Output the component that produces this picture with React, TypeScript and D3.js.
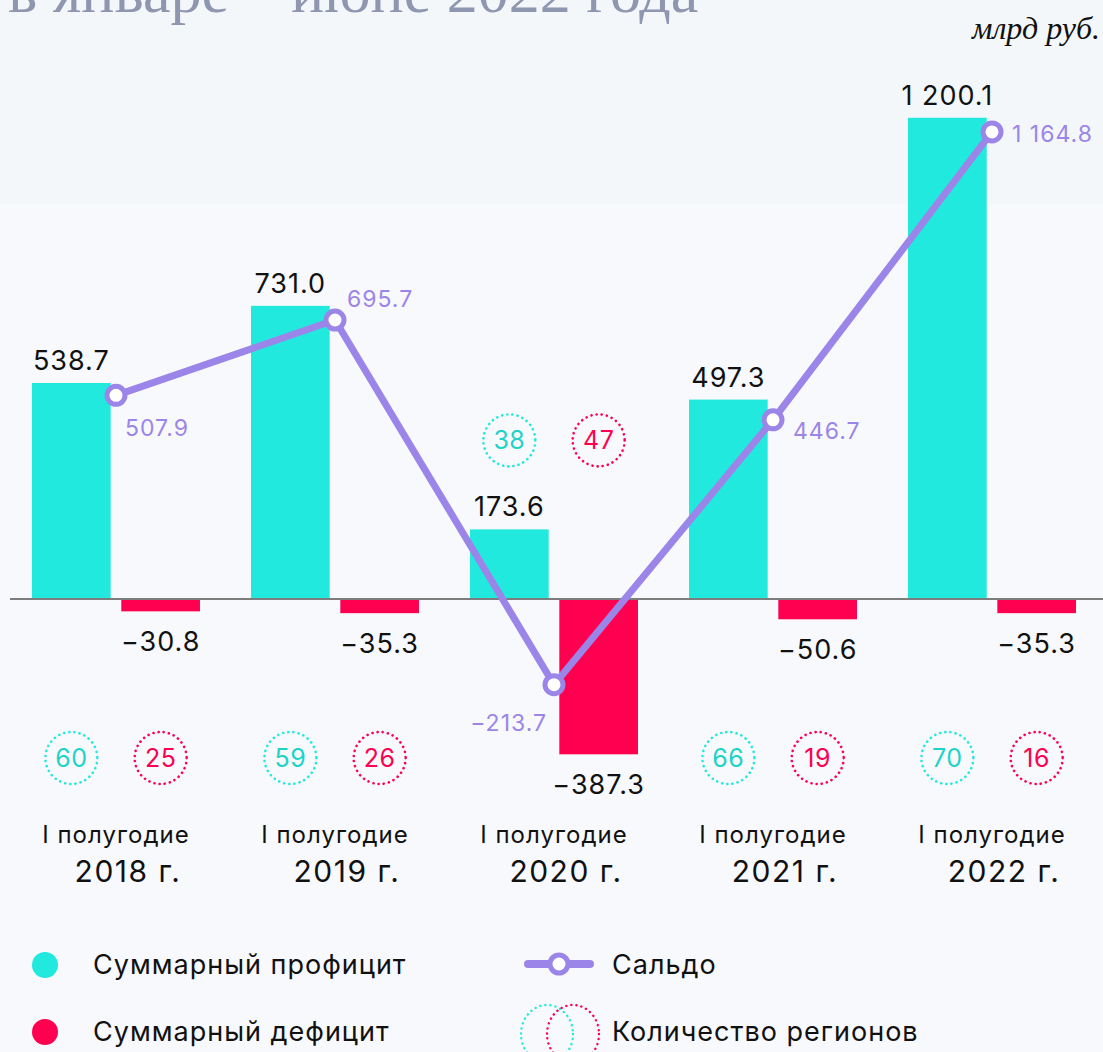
import React from "react";
import * as d3 from "d3";

const periods = ["2018", "2019", "2020", "2021", "2022"];
const profit = [538.7, 731.0, 173.6, 497.3, 1200.1];
const deficit = [-30.8, -35.3, -387.3, -50.6, -35.3];
const saldo = [507.9, 695.7, -213.7, 446.7, 1164.8];
const surplusRegions = [60, 59, 38, 66, 70];
const deficitRegions = [25, 26, 47, 19, 16];

// where the saldo label sits around its point: [dx, dy, anchor]
const saldoLabelPos: [number, number, string][] = [
  [9, 41, "start"],
  [12, -13, "start"],
  [-7, 46, "end"],
  [20, 19, "start"],
  [20, 10, "start"],
];

const W = 1103;
const H = 1052;
const CYAN = "#22e9de";
const RED = "#ff0050";
const PURPLE = "#9c85e8";
const FONT = "Inter, 'Noto Sans', sans-serif";

const fmt = (v: number) => {
  const s = Math.abs(v).toFixed(1);
  const [i, d] = s.split(".");
  const grouped = i.replace(/\B(?=(\d{3})+(?!\d))/g, " ");
  return (v < 0 ? "\u2212" : "") + grouped + "." + d;
};

const DottedCircle = ({cx, cy, color, value}: {cx: number; cy: number; color: string; value: number}) => (
  <g>
    <circle cx={cx} cy={cy} r={26} fill="none" stroke={color} strokeWidth={2.6}
            strokeDasharray="0.1 5.1" strokeLinecap="round"/>
    <text x={cx} y={cy + 9} textAnchor="middle" fontSize={25} letterSpacing={0.5}
          fill={color === CYAN ? "#1dd3c8" : RED}>
      {value}
    </text>
  </g>
);

const App = () => {
  const x = d3.scaleBand().domain(periods).range([32, 1076]).paddingInner(0.233).paddingOuter(0);
  const sub = d3.scaleBand().domain(["p", "d"]).range([0, x.bandwidth()]).paddingInner(0.119);
  const y = d3.scaleLinear().domain([0, 1000]).range([599, 198]);

  const mid = (p: string) => (x(p) as number) + x.bandwidth() / 2;
  const line = d3.line<number>().x((_, i) => mid(periods[i])).y(d => y(d));

  return (
    <svg width={W} height={H} style={{position: "absolute", left: 0, top: 0}} fontFamily={FONT}>
      <rect x={0} y={0} width={W} height={H} fill="#f8f9fd"/>
      <rect x={0} y={0} width={W} height={204} fill="#f3f7fa"/>

      <text x={8} y={12} fontFamily="'Liberation Serif', serif" fontSize={62} fill="#8f96b0">
        в январе – июне 2022 года
      </text>
      <text x={1100} y={39} textAnchor="end" fontFamily="'Liberation Serif', serif" fontStyle="italic"
            fontSize={32} fill="#111">млрд руб.</text>

      {periods.map((p, i) => {
        const x0 = x(p) as number;
        return (
          <g key={p}>
            <rect x={x0 + (sub("p") as number)} y={y(profit[i])} width={sub.bandwidth()}
                  height={y(0) - y(profit[i])} fill={CYAN}/>
            <rect x={x0 + (sub("d") as number)} y={y(0)} width={sub.bandwidth()}
                  height={y(deficit[i]) - y(0)} fill={RED}/>
          </g>
        );
      })}

      <line x1={10} x2={W} y1={y(0)} y2={y(0)} stroke="#7d7d7d" strokeWidth={2}/>

      {periods.map((p, i) => {
        const x0 = x(p) as number;
        const pc = x0 + (sub("p") as number) + sub.bandwidth() / 2;
        const dc = x0 + (sub("d") as number) + sub.bandwidth() / 2;
        const deepDeficit = y(deficit[i]) > 720;
        const cy = deepDeficit ? y(profit[i]) - 89 : 758;
        return (
          <g key={"l" + p}>
            <text x={pc} y={y(profit[i]) - 13} textAnchor="middle" fontSize={27} letterSpacing={1} fill="#111">
              {fmt(profit[i])}
            </text>
            <text x={dc} y={y(deficit[i]) + 40} textAnchor="middle" fontSize={27} letterSpacing={1} fill="#111">
              {fmt(deficit[i])}
            </text>
            <DottedCircle cx={pc} cy={cy} color={CYAN} value={surplusRegions[i]}/>
            <DottedCircle cx={dc} cy={cy} color={RED} value={deficitRegions[i]}/>
            <text x={mid(p)} y={843} textAnchor="middle" fontSize={24} letterSpacing={1} fill="#111">I полугодие</text>
            <text x={mid(p) + 12} y={882} textAnchor="middle" fontSize={30} letterSpacing={1.5} fill="#111">{p} г.</text>
          </g>
        );
      })}

      <path d={line(saldo) || ""} fill="none" stroke={PURPLE} strokeWidth={7} strokeLinejoin="round"/>
      {saldo.map((v, i) => {
        const cx = mid(periods[i]);
        const cy = y(v);
        const [dx, dy, anchor] = saldoLabelPos[i];
        return (
          <g key={"s" + i}>
            <circle cx={cx} cy={cy} r={9} fill="#fff" stroke={PURPLE} strokeWidth={5}/>
            <text x={cx + dx} y={cy + dy} textAnchor={anchor} fontSize={23} letterSpacing={1} fill={PURPLE}>
              {fmt(v)}
            </text>
          </g>
        );
      })}

      {/* legend */}
      <circle cx={45} cy={965} r={13} fill={CYAN}/>
      <text x={93} y={974} fontSize={27} letterSpacing={1} fill="#111">Суммарный профицит</text>
      <circle cx={45} cy={1032} r={13} fill={RED}/>
      <text x={93} y={1041} fontSize={27} letterSpacing={1} fill="#111">Суммарный дефицит</text>

      <line x1={528} x2={590} y1={964} y2={964} stroke={PURPLE} strokeWidth={8} strokeLinecap="round"/>
      <circle cx={559} cy={964} r={9} fill="#fff" stroke={PURPLE} strokeWidth={5}/>
      <text x={612} y={974} fontSize={27} letterSpacing={1} fill="#111">Сальдо</text>

      <ellipse cx={547} cy={1034} rx={26} ry={29} fill="none" stroke={CYAN} strokeWidth={2.4}
               strokeDasharray="0.1 5" strokeLinecap="round"/>
      <ellipse cx={573} cy={1034} rx={26} ry={29} fill="none" stroke={RED} strokeWidth={2.4}
               strokeDasharray="0.1 5" strokeLinecap="round"/>
      <text x={612} y={1041} fontSize={27} letterSpacing={1} fill="#111">Количество регионов</text>
    </svg>
  );
};

export default App;
